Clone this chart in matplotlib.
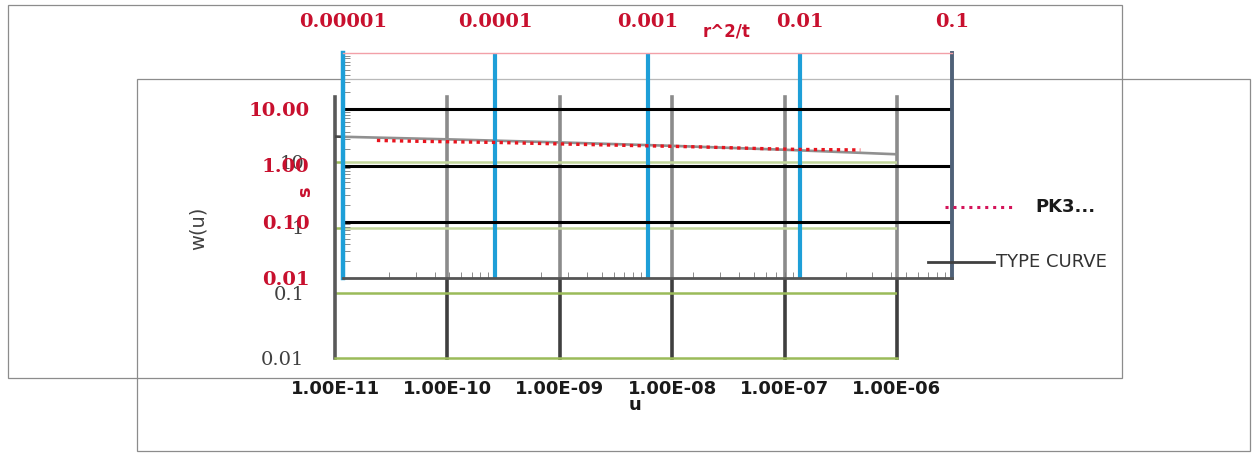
import matplotlib
matplotlib.use("Agg")
import matplotlib.pyplot as plt
from matplotlib.lines import Line2D
from matplotlib.patches import Rectangle
from matplotlib.ticker import LogLocator, NullFormatter, FixedLocator

# type curve (u, W(u))
u = [1e-11, 1e-10, 1e-9, 1e-8, 1e-7, 1e-6]
wu = [24.75, 22.45, 20.15, 17.84, 15.54, 13.24]
u_labels = ["1.00E-11", "1.00E-10", "1.00E-09", "1.00E-08", "1.00E-07", "1.00E-06"]
wu_ticks = [0.01, 0.1, 1, 10]
wu_labels = ["0.01", "0.1", "1", "10"]

# PK3 data (r^2/t, s)
r2t = [1.67e-5, 3.2e-5, 1.02e-4, 2.66e-4, 7.7e-4, 2.2e-3, 5.5e-3, 1.0e-2, 2.5e-2]
s = [2.79, 2.69, 2.57, 2.42, 2.27, 2.14, 2.00, 1.93, 1.89]
r2t_ticks = [1e-5, 1e-4, 1e-3, 1e-2, 1e-1]
r2t_labels = ["0.00001", "0.0001", "0.001", "0.01", "0.1"]
s_ticks = [0.01, 0.1, 1, 10]
s_labels = ["0.01", "0.10", "1.00", "10.00"]

W, H = 1252, 453
rot = "#C8102E"
blau = "#1E9FD8"
gruen = "#9BBB59"


def fx(x):
    return x / W


def fy(y):
    return 1 - y / H


fig = plt.figure(figsize=(W / 100, H / 100), dpi=100)

# die zwei rahmen der excel diagramme
fig.add_artist(Rectangle((fx(8), fy(378)), fx(1122) - fx(8), fy(5) - fy(378),
                         transform=fig.transFigure, fill=False, ec="#8c8c8c", lw=0.9, zorder=-2))
fig.add_artist(Rectangle((fx(137), fy(451)), fx(1250) - fx(137), fy(79) - fy(451),
                         transform=fig.transFigure, fill=False, ec="#8c8c8c", lw=0.9, zorder=-2))

# %% diagramm 2: u / w(u)
ax2 = fig.add_axes([fx(335), fy(358), fx(897) - fx(335), fy(97) - fy(358)])
ax2.set_facecolor("none")
ax2.set_xscale("log")
ax2.set_yscale("log")
ax2.set_xlim(1e-11, 1e-6)
ax2.set_ylim(0.01, 100)
ax2.plot(u, wu, color="#474747", lw=1.9, zorder=3)
for xx in u[1:]:
    ax2.axvline(xx, color="#3f3f3f", lw=2.6, zorder=1, clip_on=False)
for yy in wu_ticks[1:]:
    ax2.axhline(yy, color=gruen, lw=1.8, zorder=1)
for side in ["top", "right"]:
    ax2.spines[side].set_visible(False)
ax2.spines["left"].set_color("#595959")
ax2.spines["left"].set_linewidth(2.6)
ax2.spines["bottom"].set_color(gruen)
ax2.spines["bottom"].set_linewidth(1.8)
ax2.xaxis.set_major_locator(FixedLocator(u))
ax2.set_xticklabels(u_labels, fontsize=13, fontweight="bold", color="#1a1a1a")
ax2.yaxis.set_major_locator(FixedLocator(wu_ticks))
ax2.set_yticklabels(wu_labels, fontsize=14, family="DejaVu Serif", color="#404040")
ax2.xaxis.set_minor_formatter(NullFormatter())
ax2.yaxis.set_minor_formatter(NullFormatter())
ax2.tick_params(which="both", length=0)
ax2.tick_params(axis="x", pad=16)
ax2.tick_params(axis="y", pad=22)

# %% diagramm 1: r^2/t / s (liegt oben drauf)
ax1 = fig.add_axes([fx(343), fy(278), fx(952) - fx(343), fy(53) - fy(278)])
ax1.set_facecolor((1, 1, 1, 0.4))
ax1.set_xscale("log")
ax1.set_yscale("log")
ax1.set_xlim(1e-5, 1e-1)
ax1.set_ylim(0.01, 100)
for xx in r2t_ticks[1:-1]:
    ax1.axvline(xx, color=blau, lw=3, zorder=2)
for yy in s_ticks[1:]:
    ax1.axhline(yy, color="black", lw=2.2, zorder=2)
ax1.plot(r2t, s, color="#E8141E", lw=2.4, linestyle=(0, (1, 1.3)), zorder=4)

ax1.spines["left"].set_color(blau)
ax1.spines["left"].set_linewidth(3.2)
ax1.spines["right"].set_color("#4f6178")
ax1.spines["right"].set_linewidth(2.8)
ax1.spines["bottom"].set_color("#555555")
ax1.spines["bottom"].set_linewidth(2)
ax1.spines["top"].set_color("#f2a0a8")
ax1.spines["top"].set_linewidth(1)

ax1.xaxis.set_major_locator(FixedLocator(r2t_ticks))
ax1.set_xticklabels(r2t_labels, fontsize=14, fontweight="bold", family="DejaVu Serif", color=rot)
ax1.yaxis.set_major_locator(FixedLocator(s_ticks))
ax1.set_yticklabels(s_labels, fontsize=14, fontweight="bold", family="DejaVu Serif", color=rot)
ax1.xaxis.set_minor_locator(LogLocator(base=10, subs=range(2, 10)))
ax1.yaxis.set_minor_locator(LogLocator(base=10, subs=range(2, 10)))
ax1.xaxis.set_minor_formatter(NullFormatter())
ax1.yaxis.set_minor_formatter(NullFormatter())
ax1.tick_params(axis="x", which="major", length=0, top=True, labeltop=True,
                bottom=False, labelbottom=False, pad=16)
ax1.tick_params(axis="x", which="minor", direction="in", length=4, color="#777777",
                bottom=True, top=False)
ax1.tick_params(axis="y", which="major", length=0, pad=24)
ax1.tick_params(axis="y", which="minor", direction="in", length=5, color="#777777")

# achsentitel
fig.text(fx(727), fy(31), "r^2/t", color=rot, fontsize=12, fontweight="bold", ha="center", va="center")
fig.text(fx(305), fy(192), "s", color=rot, fontsize=13, fontweight="bold", rotation=90, ha="center", va="center")
fig.text(fx(198), fy(228), "w(u)", color="#404040", fontsize=14, rotation=90, ha="center", va="center")
fig.text(fx(635), fy(405), "u", color="#1a1a1a", fontsize=13, fontweight="bold", ha="center", va="center")

# legende von hand
fig.add_artist(Line2D([fx(945), fx(1015)], [fy(207), fy(207)], transform=fig.transFigure,
                      color="#D4145A", lw=2.2, linestyle=(0, (1, 1.6)), zorder=5))
fig.text(fx(1035), fy(207), "PK3...", color="#1a1a1a", fontsize=13, fontweight="bold", va="center")
fig.add_artist(Line2D([fx(928), fx(994)], [fy(262), fy(262)], transform=fig.transFigure,
                      color="#404040", lw=2, zorder=5))
fig.text(fx(996), fy(262), "TYPE CURVE", color="#333333", fontsize=13, va="center")

fig.savefig("out.png", dpi=100)
